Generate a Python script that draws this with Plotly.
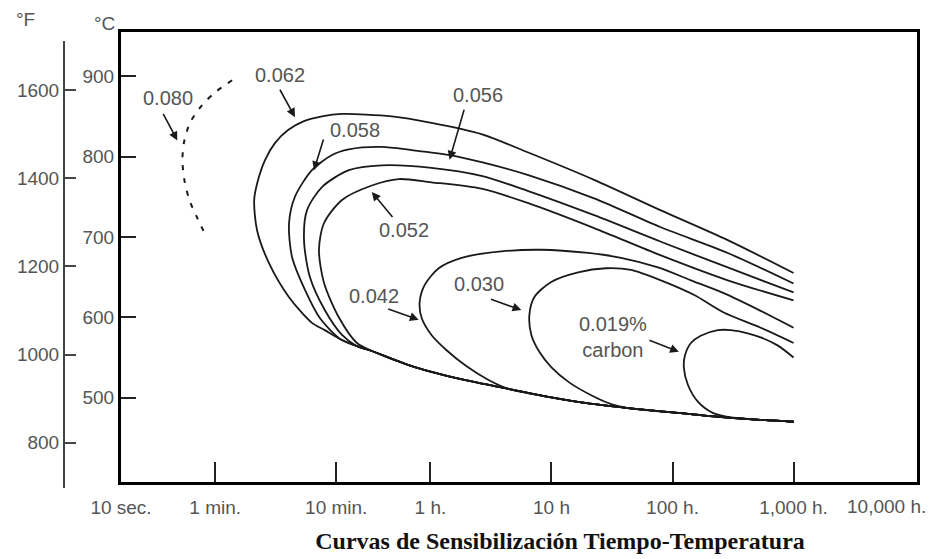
import numpy as np
import plotly.graph_objects as go

# ---------------- data (time in hours, temperature in °C) ----------------
# common lower boundary shared by the C-curves
env_t = [0.179, 0.247, 0.328, 0.741, 1.91, 4.41, 9.42, 17.6, 42.9, 111, 286, 1000]
env_c = [573, 564, 558, 538, 522, 511, 501, 494, 487, 481, 475, 470]

c062_t = [1000, 286, 80.2, 22.5, 6.44, 2.64, 1.02, 0.48, 0.186, 0.127, 0.0903, 0.0667,
          0.0521, 0.0431, 0.0377, 0.035, 0.037, 0.0465, 0.0679, 0.105, 0.134]
c062_c = [655, 696, 733, 771, 805, 828, 842, 850, 853, 850, 844, 833,
          817, 796, 771, 746, 708, 667, 625, 593, 584]

c058_t = [1000, 286, 80.2, 22.5, 6.44, 2.64, 1.41, 0.700, 0.397, 0.212, 0.154, 0.105,
          0.076, 0.0679, 0.0719, 0.092, 0.122]
c058_c = [642, 680, 712, 748, 777, 793, 802, 808, 812, 809, 802, 783,
          750, 717, 675, 634, 599]

c056_t = [1000, 286, 80.2, 22.5, 6.44, 2.64, 1.02, 0.397, 0.212, 0.127, 0.0955, 0.0903,
          0.101, 0.134, 0.186]
c056_c = [631, 662, 694, 727, 757, 776, 786, 789, 783, 762, 733, 696, 650, 609, 578]

c052_t = [1000, 286, 80.2, 22.5, 6.44, 2.64, 1.02, 0.547, 0.328, 0.186, 0.132, 0.120,
          0.132, 0.175, 0.247]
c052_c = [621, 646, 677, 711, 742, 760, 768, 772, 764, 746, 717, 684, 643, 600, 568]

c042_t = [1000, 535, 265, 142, 75.9, 37.6, 20.1, 8.24, 3.86, 1.81, 1.17, 0.895, 0.815,
          0.847, 1.02, 1.36, 1.99, 3.02]
c042_c = [587, 608, 630, 646, 662, 674, 680, 684, 682, 674, 661, 640, 619,
          599, 578, 559, 539, 522]

c030_t = [1000, 535, 265, 150, 80.2, 45.4, 28.2, 16.6, 9.95, 7.21, 6.57, 6.82, 7.94,
          9.95, 14.0, 21.3, 31.1]
c030_c = [568, 587, 606, 628, 646, 659, 661, 656, 644, 625, 603, 578, 557,
          538, 519, 503, 492]

c019_t = [1000, 738, 535, 418, 303, 237, 171, 142, 127, 124, 134, 162, 215, 286]
c019_c = [550, 565, 575, 580, 584, 584, 577, 568, 553, 538, 516, 495, 481, 476]

c080_t = [0.0230, 0.0167, 0.0130, 0.0104, 0.00927, 0.00893, 0.00927, 0.0102, 0.0119, 0.0138]
c080_c = [895, 880, 864, 843, 820, 796, 771, 746, 723, 703]

x_tick_hours = [1 / 360, 1 / 60, 1 / 6, 1, 10, 100, 1000]
x_tick_text = ["10 sec.", "1 min.", "10 min.", "1 h.", "10 h", "100 h.", "1,000 h."]
x_last_label = "10,000 h."
c_ticks = [500, 600, 700, 800, 900]
f_ticks = [800, 1000, 1200, 1400, 1600]
f_range = [697.5, 1711.5]

title_text = "Curvas de Sensibilización Tiempo-Temperatura"

# ---------------- figure ----------------
LINE = "#1a1a1a"
TXT = "#555555"
FONT = "Liberation Sans"
FS = 19

fig = go.Figure()


def with_envelope(ts, cs):
    last = ts[-1]
    et = [t for t in env_t if t > last]
    ec = [c for t, c in zip(env_t, env_c) if t > last]
    return ts + et, cs + ec


for ts, cs in [(c062_t, c062_c), (c058_t, c058_c), (c056_t, c056_c), (c052_t, c052_c),
               (c042_t, c042_c), (c030_t, c030_c), (c019_t, c019_c)]:
    xt, yc = with_envelope(ts, cs)
    fig.add_trace(go.Scatter(x=xt, y=yc, mode="lines",
                             line=dict(color=LINE, width=1.8, shape="spline", smoothing=0.8),
                             hoverinfo="skip", showlegend=False))

fig.add_trace(go.Scatter(x=c080_t, y=c080_c, mode="lines",
                         line=dict(color=LINE, width=2, dash="5px,8px", shape="spline",
                                   smoothing=0.8),
                         hoverinfo="skip", showlegend=False))

# invisible trace carrying the °F axis
fig.add_trace(go.Scatter(x=[1, 1], y=f_range, yaxis="y2", mode="markers",
                         marker=dict(opacity=0), hoverinfo="skip", showlegend=False))

# ---------------- labels and arrows ----------------
labels = [("0.080", -2.165, 873), ("0.062", -1.242, 902), ("0.058", -0.624, 833),
          ("0.056", 0.389, 876), ("0.052", -0.221, 708), ("0.042", -0.468, 626),
          ("0.030", 0.405, 641), ("0.019%<br>carbon", 1.51, 575)]
for txt, lx, ly in labels:
    fig.add_annotation(x=lx, y=ly, xref="x", yref="y", text=txt, showarrow=False,
                       xanchor="center", yanchor="middle",
                       font=dict(family=FONT, size=20, color=TXT))

arrows = [(-2.091, 820, -2.214, 855), (-1.119, 849, -1.250, 885),
          (-0.962, 783, -0.880, 823), (0.158, 796, 0.282, 860),
          (-0.484, 756, -0.303, 723), (-0.097, 597, -0.361, 611),
          (0.751, 609, 0.488, 623), (2.053, 557, 1.797, 572)]
for hx, hy, tx, ty in arrows:
    fig.add_annotation(x=hx, y=hy, xref="x", yref="y", ax=tx, ay=ty, axref="x", ayref="y",
                       text="", showarrow=True, arrowhead=2, arrowsize=1.1,
                       arrowwidth=1.6, arrowcolor=LINE)

# page is drawn 8px in from the window edge; paper spans x 40..917, y 30..494 on screen
PX0, PW, PY1, PH = 40, 877, 494, 464


def px(x):
    return (x - PX0) / PW


def py(y):
    return (PY1 - y) / PH


for txt, sx, sy in [("°F", 25, 20), ("°C", 104, 24), (x_last_label, 886, 506)]:
    fig.add_annotation(x=px(sx), y=py(sy), xref="paper", yref="paper", text=txt,
                       showarrow=False, xanchor="center", yanchor="middle",
                       font=dict(family=FONT, size=FS, color=TXT))

axis_font = dict(family=FONT, size=FS, color=TXT)

fig.update_layout(
    width=927, height=551,
    margin=dict(l=32, r=18, t=22, b=65, autoexpand=False),
    paper_bgcolor="white", plot_bgcolor="rgba(0,0,0,0)",
    showlegend=False,
    title=dict(text=title_text, x=(560 - 8) / 927, xref="container", xanchor="center",
               y=1 - (541 - 8) / 551, yref="container", yanchor="middle",
               font=dict(family="Liberation Serif", size=24, color="#111",
                         weight="bold")),
    xaxis=dict(type="log", range=[np.log10(1 / 360), 4.02],
               domain=[px(121), 1], anchor="y", automargin=False,
               tickvals=x_tick_hours, ticktext=x_tick_text,
               ticks="inside", ticklen=20, tickwidth=1.5, tickcolor="#222",
               showline=True, linewidth=3, linecolor="black", mirror=True,
               showgrid=False, zeroline=False, tickfont=axis_font,
               ticklabelstandoff=6),
    yaxis=dict(range=[395, 955], domain=[py(482), py(32)], automargin=False,
               tickvals=c_ticks, ticks="inside", ticklen=15, tickwidth=2,
               tickcolor="#222", showline=True, linewidth=3, linecolor="black",
               mirror=True, showgrid=False, zeroline=False, tickfont=axis_font),
    yaxis2=dict(range=f_range, domain=[py(488), py(41)], automargin=False,
                anchor="free", position=px(64), side="left",
                tickvals=[698] + f_ticks + [1711],
                ticktext=[""] + [str(v) for v in f_ticks] + [""],
                ticks="inside", ticklen=11, tickwidth=2, tickcolor="#444",
                showline=True, linewidth=2, linecolor="#444",
                showgrid=False, zeroline=False, tickfont=axis_font),
)

fig.write_html("out.html")
